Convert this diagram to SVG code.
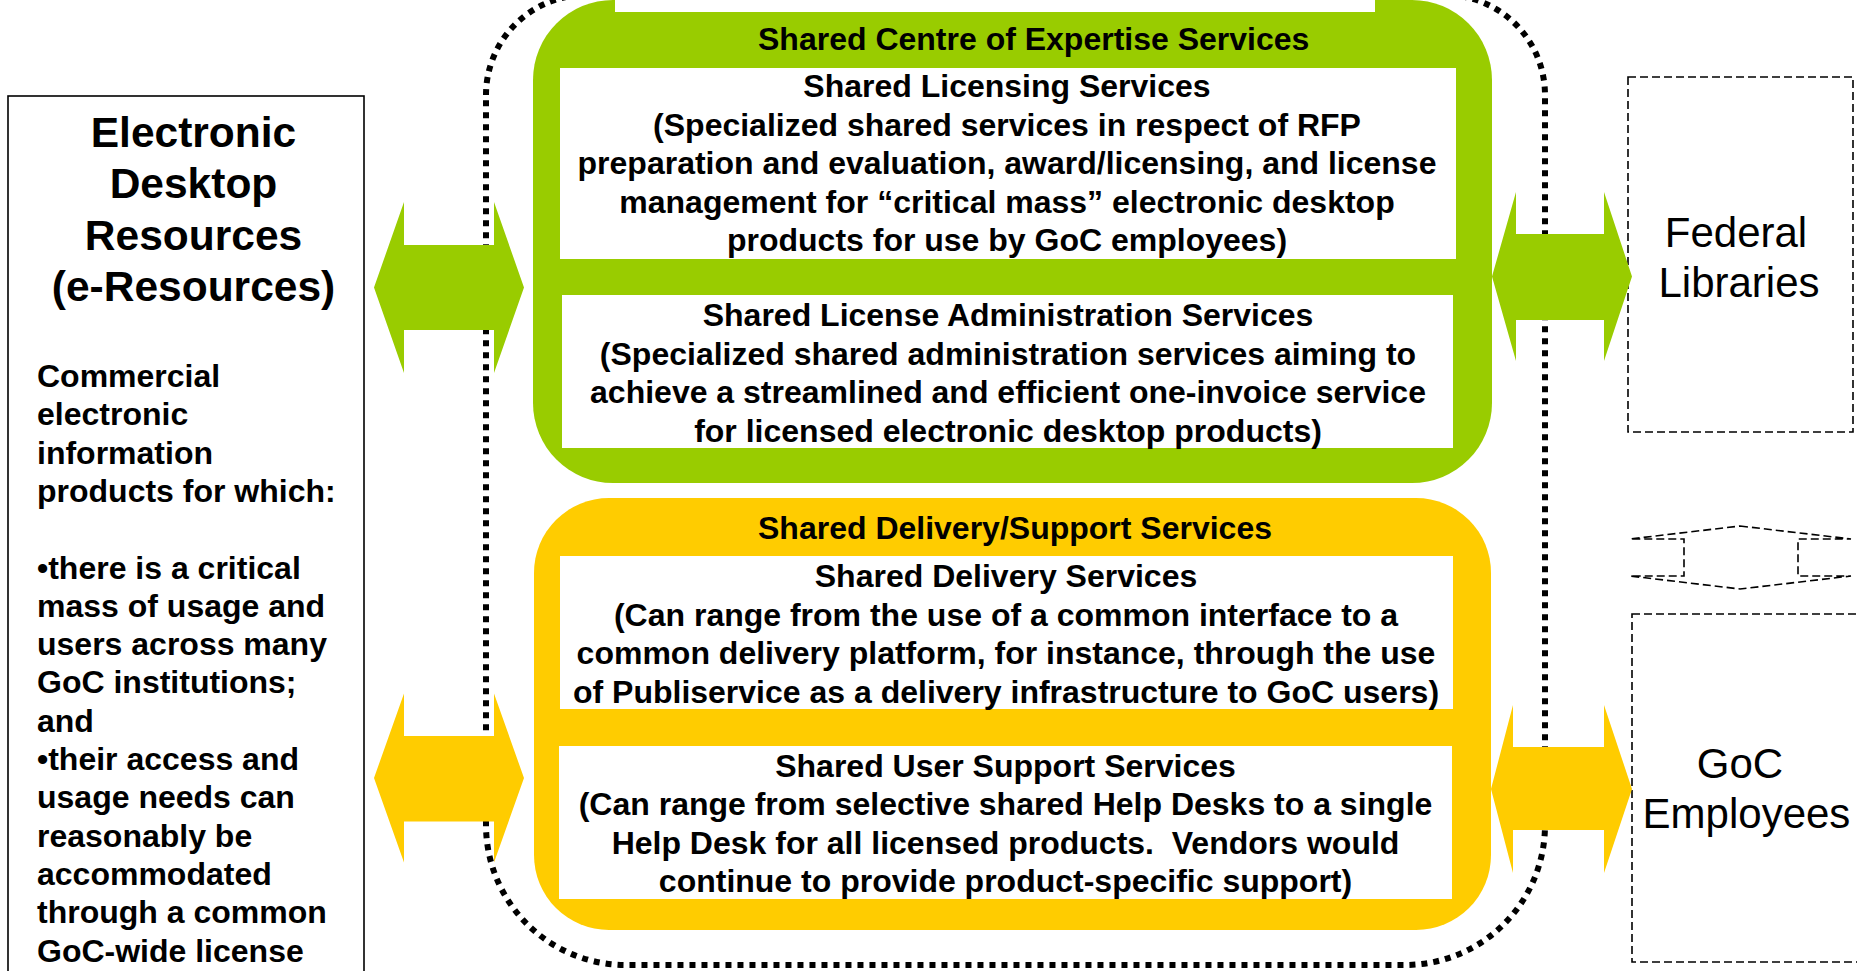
<svg xmlns="http://www.w3.org/2000/svg" width="1857" height="971" viewBox="0 0 1857 971">
<style>
text{font-family:"Liberation Sans",Arial,sans-serif;fill:#000}
.b{font-weight:bold;font-size:32px}
.c{text-anchor:middle}
.t{font-weight:bold;font-size:42.5px;text-anchor:middle}
.r{font-size:42px;text-anchor:middle}
.wb{fill:#fff;stroke:none}
.dash{fill:none;stroke:#000;stroke-width:1.6;stroke-dasharray:8 4}
.green{fill:#99CC00}
.yellow{fill:#FFCC00}
</style>
<rect width="1857" height="971" fill="#fff"/>

<g id="left-resources">
<rect x="8" y="96" width="356" height="890" fill="#fff" stroke="#000" stroke-width="1.6"/>
<text class="t" x="193.5" y="147">Electronic</text>
<text class="t" x="193.5" y="198">Desktop</text>
<text class="t" x="193.5" y="249.5">Resources</text>
<text class="t" x="193.5" y="300.5">(e-Resources)</text>
<text class="b" x="37" y="387">Commercial</text>
<text class="b" x="37" y="425.3">electronic</text>
<text class="b" x="37" y="463.6">information</text>
<text class="b" x="37" y="501.9">products for which:</text>
<text class="b" x="37" y="578.5">•there is a critical</text>
<text class="b" x="37" y="616.8">mass of usage and</text>
<text class="b" x="37" y="655.1">users across many</text>
<text class="b" x="37" y="693.4">GoC institutions;</text>
<text class="b" x="37" y="731.7">and</text>
<text class="b" x="37" y="770">•their access and</text>
<text class="b" x="37" y="808.3">usage needs can</text>
<text class="b" x="37" y="846.6">reasonably be</text>
<text class="b" x="37" y="884.9">accommodated</text>
<text class="b" x="37" y="923.2">through a common</text>
<text class="b" x="37" y="961.5">GoC-wide license</text>
</g>

<g id="shared-frame">
<path d="M486,95 A100,100 0 0 1 586,-5 L1445,-5 A100,100 0 0 1 1545,95 L1545,825 A140,140 0 0 1 1405,965 L626,965 A140,140 0 0 1 486,825 Z" fill="none" stroke="#000" stroke-width="6" stroke-dasharray="6 6"/>
</g>

<g id="centre-of-expertise">
<rect class="green" x="533" y="0" width="959" height="483" rx="80" ry="80"/>
<rect class="wb" x="615" y="-10" width="760" height="22"/>
<text class="b" x="758" y="50">Shared Centre of Expertise Services</text>
<g id="licensing-services">
<rect class="wb" x="560" y="68" width="896" height="191"/>
<text class="b c" x="1007" y="97">Shared Licensing Services</text>
<text class="b c" x="1007" y="135.5">(Specialized shared services in respect of RFP</text>
<text class="b c" x="1007" y="174">preparation and evaluation, award/licensing, and license</text>
<text class="b c" x="1007" y="212.5">management for “critical mass” electronic desktop</text>
<text class="b c" x="1007" y="251">products for use by GoC employees)</text>
</g>
<g id="license-administration">
<rect class="wb" x="562" y="295" width="891" height="153"/>
<text class="b c" x="1008" y="326">Shared License Administration Services</text>
<text class="b c" x="1008" y="364.5">(Specialized shared administration services aiming to</text>
<text class="b c" x="1008" y="403">achieve a streamlined and efficient one-invoice service</text>
<text class="b c" x="1008" y="441.5">for licensed electronic desktop products)</text>
</g>
</g>

<g id="delivery-support">
<rect class="yellow" x="534" y="498" width="957" height="432" rx="75" ry="75"/>
<text class="b" x="758" y="539">Shared Delivery/Support Services</text>
<g id="delivery-services">
<rect class="wb" x="560" y="556" width="893" height="153"/>
<text class="b c" x="1006" y="587">Shared Delivery Services</text>
<text class="b c" x="1006" y="625.5">(Can range from the use of a common interface to a</text>
<text class="b c" x="1006" y="664">common delivery platform, for instance, through the use</text>
<text class="b c" x="1006" y="702.5">of Publiservice as a delivery infrastructure to GoC users)</text>
</g>
<g id="user-support">
<rect class="wb" x="559" y="746" width="893" height="153"/>
<text class="b c" x="1005.5" y="776.5">Shared User Support Services</text>
<text class="b c" x="1005.5" y="815">(Can range from selective shared Help Desks to a single</text>
<text class="b c" x="1005.5" y="853.5">Help Desk for all licensed products.&#160; Vendors would</text>
<text class="b c" x="1005.5" y="892">continue to provide product-specific support)</text>
</g>
</g>

<g id="federal-libraries">
<rect class="dash" x="1628" y="77" width="225" height="355"/>
<text class="r" x="1736" y="247">Federal</text>
<text class="r" x="1739" y="297">Libraries</text>
</g>

<g id="goc-employees">
<rect class="dash" x="1632" y="614" width="260" height="348"/>
<text class="r" x="1740" y="778">GoC</text>
<text class="r" x="1746.5" y="828">Employees</text>
</g>

<g id="connectors">
<polygon class="green" points="374,287.5 404,202 404,245 494,245 494,202 524,287.5 494,373 494,330 404,330 404,373"/>
<polygon class="yellow" points="374,778 404,693.5 404,736 494,736 494,693.5 524,778 494,862.5 494,821.5 404,821.5 404,862.5"/>
<polygon class="green" points="1492,276.5 1516,192 1516,234 1604,234 1604,192 1632,276.5 1604,361 1604,320 1516,320 1516,361"/>
<polygon class="yellow" points="1491,789 1513,705 1513,747 1604,747 1604,705 1632,789 1604,873 1604,830 1513,830 1513,873"/>
<polygon class="dash" points="1740,526 1851,539 1798,539 1798,576 1851,576 1740,589 1630,576 1684,576 1684,539 1630,539"/>
</g>
</svg>
